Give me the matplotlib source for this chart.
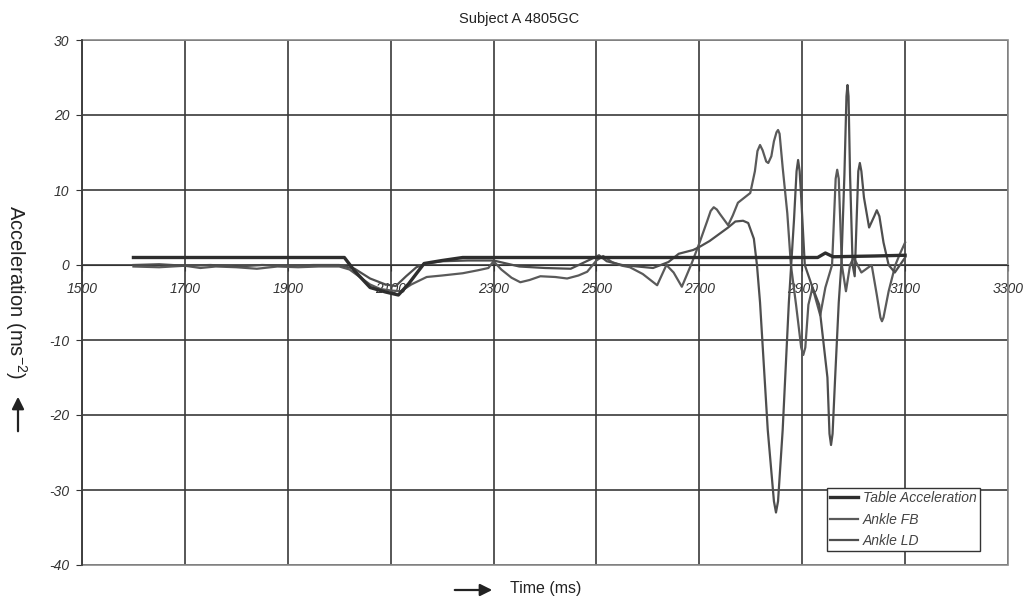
import matplotlib
matplotlib.use('Agg')
import matplotlib.pyplot as plt
from matplotlib.patches import Rectangle

plt.rcParams['font.family'] = ['Liberation Sans', 'DejaVu Sans']

# --- data (time in ms, acceleration in m/s^2) ---
t_table = [1600, 2010, 2030, 2060, 2090, 2115, 2135, 2165, 2200, 2240, 2930, 2945, 2960, 3040, 3100]
v_table = [1.0, 1.0, -0.8, -3.0, -3.6, -4.0, -2.5, 0.2, 0.6, 1.0, 1.0, 1.6, 1.1, 1.2, 1.3]

t_fb = [1600, 1650, 1700, 1730, 1760, 1800, 1840, 1880, 1920, 1960,
        2000, 2020, 2040, 2060, 2080, 2100, 2120, 2140, 2170, 2200,
        2240, 2270, 2290, 2300, 2315, 2335, 2352, 2370, 2391, 2420,
        2443, 2465, 2482, 2500, 2513, 2530, 2550, 2565, 2590, 2618,
        2636, 2650, 2666, 2685, 2700, 2715, 2722, 2728, 2734, 2740,
        2756, 2765, 2775, 2799, 2808, 2813, 2818, 2823, 2830, 2834,
        2840, 2845, 2850, 2853, 2856, 2862, 2871, 2878, 2888, 2898,
        2902, 2906, 2912, 2920, 2935, 2945, 2958, 2965, 2968, 2971,
        2977, 2985, 2993, 3000, 3015, 3035, 3045, 3052, 3055, 3058,
        3068, 3081, 3090, 3100]
v_fb = [-0.2, -0.3, -0.1, -0.4, -0.2, -0.3, -0.5, -0.2, -0.3, -0.2,
        -0.2, -0.6, -1.6, -2.6, -3.2, -3.4, -3.5, -2.6, -1.6, -1.4,
        -1.1, -0.7, -0.4, 0.5, -0.6, -1.7, -2.3, -2.0, -1.5, -1.6,
        -1.8, -1.4, -0.9, 0.6, 1.2, 0.4, -0.1, -0.3, -1.2, -2.7,
        0.0, -1.0, -2.9, 0.2, 2.9, 5.8, 7.2, 7.7, 7.4, 6.8,
        5.3, 6.6, 8.3, 9.6, 12.5, 15.2, 16.0, 15.3, 13.8, 13.6,
        14.5, 16.5, 17.7, 18.0, 17.5, 13.0, 6.9, 0.0, -5.3, -11.0,
        -12.0, -11.0, -5.3, -3.0, -6.7, -3.0, 0.0, 11.5, 12.7, 11.5,
        0.0, -3.5, 0.0, 1.0, -1.0, 0.0, -4.0, -7.0, -7.5, -7.0,
        -3.5, 0.0, 1.5, 3.0]

t_ld = [1600, 1650, 1700, 1750, 1800, 1850, 1900, 1950,
        2000, 2030, 2060, 2090, 2110, 2130, 2150, 2170, 2200, 2250,
        2300, 2350, 2400, 2450, 2490, 2505, 2520, 2550, 2580, 2610,
        2640, 2660, 2688, 2700, 2720, 2740, 2756, 2770, 2785, 2795,
        2806, 2812, 2818, 2833, 2845, 2849, 2853, 2862, 2874, 2884,
        2889, 2892, 2895, 2898, 2905, 2920, 2933, 2949, 2953, 2956,
        2959, 2964, 2971, 2976, 2982, 2986, 2988, 2990, 2993, 2998,
        3002, 3009, 3012, 3015, 3020, 3030, 3040, 3045, 3050, 3058,
        3068, 3080, 3100]
v_ld = [0.0, 0.1, -0.1, 0.0, -0.2, 0.0, -0.1, 0.0,
        0.0, -0.5, -1.8, -2.6, -2.8, -1.5, -0.3, 0.2, 0.5, 0.6,
        0.6, -0.2, -0.4, -0.5, 0.8, 1.3, 0.5, 0.0, -0.2, -0.4,
        0.4, 1.5, 2.0, 2.4, 3.2, 4.2, 5.0, 5.8, 5.9, 5.6,
        3.5, 0.0, -5.0, -22.0, -31.5, -33.0, -31.5, -22.0, -5.0, 6.0,
        12.5, 14.0, 12.5, 9.0, 0.0, -3.0, -5.3, -15.0, -22.5, -24.0,
        -22.5, -15.0, -5.0, 0.0, 12.0, 22.5, 24.0, 22.5, 12.0, 0.0,
        -1.5, 12.5, 13.6, 12.5, 9.0, 5.0, 6.5, 7.3, 6.5, 3.0,
        0.0, -1.0, 1.0]

x_ticks = list(range(1500, 3301, 200))
y_ticks = list(range(-40, 31, 10))

W, H = 1027, 598
fig = plt.figure(figsize=(W / 100, H / 100), dpi=100)
ax = fig.add_axes([82 / W, 33 / H, 926 / W, 525 / H])

ax.plot(t_table, v_table, color='#2e2e2e', lw=2.4, label='Table Acceleration', zorder=4)
ax.plot(t_fb, v_fb, color='#5a5a5a', lw=1.6, label='Ankle FB', zorder=3)
ax.plot(t_ld, v_ld, color='#4e4e4e', lw=1.6, label='Ankle LD', zorder=3)

# axis crosses at zero like the Excel original (set before the tick labels, it resets them)
ax.spines['bottom'].set_position(('data', 0))
ax.spines['bottom'].set_color('#333333')
ax.spines['left'].set_color('#333333')
ax.spines['left'].set_linewidth(1.2)
for s in ['top', 'right']:
    ax.spines[s].set_visible(False)
ax.add_patch(Rectangle((0, 0), 1, 1, transform=ax.transAxes, fill=False,
                       ec='#8a8a8a', lw=1.2, clip_on=False, zorder=1))

ax.set_xlim(1500, 3300)
ax.set_ylim(-40, 30)
ax.set_xticks(x_ticks)
ax.set_yticks(y_ticks)
ax.set_xticklabels([str(x) for x in x_ticks])
ax.set_yticklabels([str(y) for y in y_ticks])
ax.tick_params(axis='x', direction='out', length=4, pad=8, color='#333333', labelsize=10, labelcolor='#333333')
ax.tick_params(axis='y', direction='out', length=4, pad=5, color='#333333', labelsize=10, labelcolor='#333333')
for lbl in ax.get_xticklabels() + ax.get_yticklabels():
    lbl.set_fontstyle('italic')

ax.grid(True, color='#3a3a3a', lw=1.2)
ax.set_axisbelow(True)

leg = ax.legend(loc='upper left', bbox_to_anchor=(827 / W, 1 - 488 / H), bbox_transform=fig.transFigure,
                borderaxespad=0, fancybox=False, framealpha=1, edgecolor='#333333',
                prop={'style': 'italic', 'size': 10}, handlelength=2.0, handletextpad=0.35,
                labelspacing=0.55, borderpad=0.22)
leg.get_frame().set_linewidth(1.0)
for txt in leg.get_texts():
    txt.set_color('#444444')

fig.text(519 / W, 1 - 19 / H, 'Subject A 4805GC', ha='center', va='center', fontsize=10.5, color='#222222')
fig.text(16 / W, 1 - 292 / H, r'Acceleration (ms$^{\mathregular{-2}}$)', rotation=270,
         ha='center', va='center', fontsize=14.5, color='#222222')
fig.text(510 / W, 1 - 589 / H, 'Time (ms)', ha='left', va='center', fontsize=11.5, color='#222222')

# the little arrows beside the axis titles
ax.annotate('', xy=(18 / W, 1 - 394 / H), xytext=(18 / W, 1 - 434 / H), xycoords='figure fraction',
            arrowprops=dict(arrowstyle='-|>', color='#222222', lw=1.6, mutation_scale=18), annotation_clip=False)
ax.annotate('', xy=(495 / W, 1 - 590 / H), xytext=(452 / W, 1 - 590 / H), xycoords='figure fraction',
            arrowprops=dict(arrowstyle='-|>', color='#222222', lw=1.6, mutation_scale=18), annotation_clip=False)

fig.savefig('out.png', dpi=100)
